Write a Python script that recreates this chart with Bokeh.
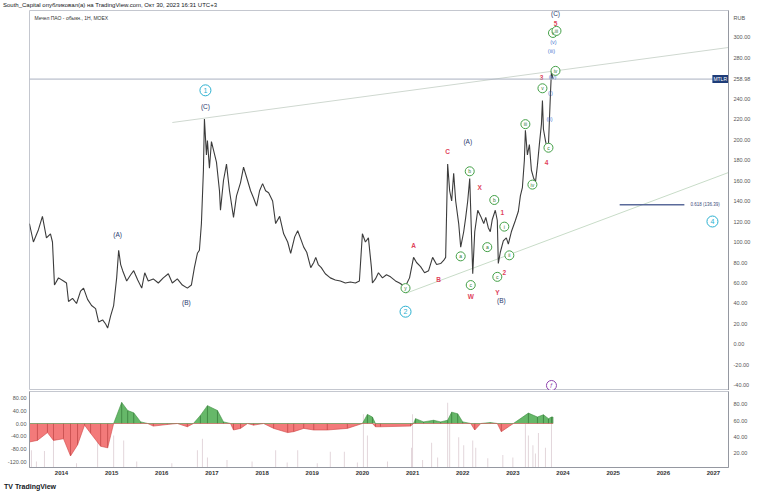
from bokeh.plotting import figure
from bokeh.models import Range1d, LinearAxis, FixedTicker, NumeralTickFormatter, Label, Span, ColumnDataSource, Div
from bokeh.layouts import column
from bokeh.embed import file_html
from bokeh.resources import INLINE
from bokeh.core.properties import value
import numpy as np

FONT = "Liberation Sans"

# ---------------- data (decimal years) ----------------
price_t = [2013.36, 2013.44, 2013.54, 2013.62, 2013.70, 2013.78, 2013.82, 2013.86, 2013.94, 2014.04,
           2014.10, 2014.14, 2014.22, 2014.30, 2014.38, 2014.44, 2014.52, 2014.60, 2014.68, 2014.74,
           2014.82, 2014.88, 2014.92, 2014.98, 2015.04, 2015.10, 2015.14, 2015.18, 2015.22, 2015.30,
           2015.38, 2015.44, 2015.52, 2015.60, 2015.66, 2015.73, 2015.83, 2015.93, 2016.03, 2016.13,
           2016.21, 2016.31, 2016.41, 2016.51, 2016.59, 2016.65, 2016.71, 2016.75, 2016.79, 2016.83,
           2016.85, 2016.89, 2016.91, 2016.95, 2016.99, 2017.03, 2017.09, 2017.15, 2017.17, 2017.23,
           2017.29, 2017.35, 2017.43, 2017.49, 2017.57, 2017.63, 2017.71, 2017.77, 2017.83, 2017.89,
           2017.95, 2018.01, 2018.07, 2018.13, 2018.21, 2018.27, 2018.35, 2018.43, 2018.51, 2018.57,
           2018.65, 2018.71, 2018.77, 2018.83, 2018.89, 2018.97, 2019.03, 2019.07, 2019.12, 2019.18,
           2019.26, 2019.36, 2019.46, 2019.56, 2019.66, 2019.76, 2019.86, 2019.94, 2020.00, 2020.06,
           2020.12, 2020.18, 2020.20, 2020.26, 2020.32, 2020.40, 2020.48, 2020.56, 2020.66, 2020.74,
           2020.80, 2020.86, 2020.94, 2021.02, 2021.08, 2021.16, 2021.24, 2021.32, 2021.40, 2021.48,
           2021.56, 2021.62, 2021.66, 2021.70, 2021.74, 2021.78, 2021.82, 2021.86, 2021.92, 2021.96,
           2022.02, 2022.06, 2022.10, 2022.14, 2022.18, 2022.20, 2022.24, 2022.30, 2022.36, 2022.42,
           2022.46, 2022.51, 2022.55, 2022.59, 2022.65, 2022.69, 2022.71, 2022.75, 2022.81, 2022.87,
           2022.91, 2022.97, 2023.05, 2023.11, 2023.15, 2023.19, 2023.23, 2023.25, 2023.29, 2023.33,
           2023.37, 2023.41, 2023.45, 2023.49, 2023.53, 2023.57, 2023.59, 2023.61, 2023.65, 2023.69,
           2023.71, 2023.73, 2023.75, 2023.77, 2023.80]
price_v = [118, 100, 112, 125, 104, 108, 100, 58, 65, 62,
           60, 42, 45, 40, 52, 55, 44, 38, 35, 22,
           24, 20, 16, 28, 38, 65, 92, 78, 72, 62,
           68, 72, 63, 55, 70, 62, 64, 60, 65, 69,
           60, 64, 58, 55, 58, 75, 89, 92, 118, 170,
           220, 185, 199, 172, 198, 190, 178, 150, 131, 160,
           176, 150, 124, 145, 158, 173, 160, 150, 143, 135,
           150, 157, 150, 148, 140, 118, 125, 108, 100, 89,
           105, 111, 103, 95, 90, 75, 80, 85, 78, 75,
           69, 65, 63, 62, 60, 61, 60, 62, 108, 100,
           104, 75, 60, 64, 70, 65, 68, 66, 62, 60,
           58, 57, 65, 85, 80, 76, 70, 72, 85, 78,
           79, 82, 85, 176, 150, 140, 167, 140, 118, 95,
           110, 124, 140, 162, 100, 69, 110, 131, 125, 118,
           124, 114, 110, 122, 131, 121, 79, 90, 101, 104,
           98, 110, 121, 130, 145, 153, 180, 209, 185, 195,
           170, 163, 158, 175, 196, 215, 238, 210, 199, 190,
           195, 220, 245, 267, 259]
last_price = 258.98

osc_t = [2013.36, 2013.52, 2013.72, 2013.84, 2014.04, 2014.18, 2014.32, 2014.46, 2014.58, 2014.78,
         2014.92, 2015.04, 2015.20, 2015.32, 2015.44, 2015.58, 2015.72, 2015.83, 2016.11, 2016.31,
         2016.51, 2016.63, 2016.77, 2016.91, 2017.11, 2017.23, 2017.37, 2017.43, 2017.57, 2017.71,
         2017.83, 2018.03, 2018.23, 2018.51, 2018.63, 2018.83, 2019.03, 2019.30, 2019.70, 2020.00,
         2020.10, 2020.20, 2020.26, 2020.36, 2020.96, 2021.02, 2021.06, 2021.22, 2021.42, 2021.56,
         2021.70, 2021.78, 2021.90, 2022.00, 2022.16, 2022.24, 2022.36, 2022.55, 2022.69, 2022.77,
         2023.01, 2023.31, 2023.49, 2023.61, 2023.71, 2023.77, 2023.80]
osc_v = [-57, -52, -28, -52, -47, -100, -66, -5, -30, -70,
         -75, 0, 65, 40, 33, 5, 0, -8, -3, 0,
         -10, 0, 25, 55, 40, 5, 0, -20, -15, 0,
         -5, 0, -15, -28, -25, -15, -20, -20, -15, 0,
         28, 20, -10, -10, -8, 0, 15, 5, 10, 5,
         10, 35, 30, 5, 0, -20, 0, 3, 0, -25,
         0, 32, 20, 27, 15, 20, 20]

vol_t = [2013.40, 2013.50, 2013.66, 2013.84, 2014.30, 2014.72, 2015.04, 2015.24, 2015.50, 2016.20,
         2016.71, 2016.81, 2016.91, 2017.30, 2017.80, 2018.27, 2018.50, 2018.71, 2019.10, 2019.36,
         2019.64, 2019.90, 2020.02, 2020.10, 2020.50, 2020.98, 2021.00, 2021.20, 2021.38, 2021.50,
         2021.70, 2021.74, 2021.92, 2022.02, 2022.20, 2022.26, 2022.50, 2022.80, 2023.00, 2023.25,
         2023.31, 2023.40, 2023.45, 2023.51, 2023.65, 2023.77]
vol_v = [24, 10, 23, 38, 8, 39, 42, 36, 10, 8,
         24, 38, 15, 12, 10, 24, 9, 24, 8, 22,
         22, 9, 68, 42, 10, 27, 68, 12, 33, 15,
         82, 56, 40, 30, 36, 27, 14, 18, 15, 56,
         42, 30, 20, 45, 27, 56]

years = [2014, 2015, 2016, 2017, 2018, 2019, 2020, 2021, 2022, 2023, 2024, 2025, 2026, 2027]
price_ticks = [300, 280, 240, 220, 200, 180, 160, 140, 120, 100, 80, 60, 40, 20, 0, -20, -40]
unit_pos = 319

# Elliott wave annotations
navy_txt = ["(A)", "(B)", "(C)", "(A)", "(B)", "(C)"]
navy_t = [2015.12, 2016.49, 2016.87, 2022.10, 2022.77, 2023.85]
navy_p = [107, 41, 232, 198, 43, 323]

red_txt = ["A", "B", "C", "X", "W", "Y", "1", "2", "3", "4", "5"]
red_t = [2021.02, 2021.52, 2021.70, 2022.34, 2022.16, 2022.69, 2022.79, 2022.83, 2023.57, 2023.67, 2023.85]
red_p = [97, 63, 188, 153, 47, 51, 129, 70, 261, 178, 313]

grn_txt = ["y", "a", "b", "c", "a", "b", "c", "i", "ii", "iii", "iv", "v", "c", "iv", "v", "iii"]
grn_t = [2020.86, 2021.96, 2022.14, 2022.16, 2022.49, 2022.63, 2022.69, 2022.83, 2022.93, 2023.25,
         2023.39, 2023.59, 2023.71, 2023.85, 2023.80, 2023.87]
grn_p = [55, 86, 169, 58, 95, 141, 66, 115, 87, 215, 156, 250, 192, 267, 304, 306]

blue_txt = ["(i)", "(ii)", "(iii)", "(iv)", "(v)"]
blue_t = [2023.75, 2023.73, 2023.77, 2023.79, 2023.81]
blue_p = [245, 220, 286, 261, 295]

cyan_txt = ["1", "2", "4"]
cyan_t = [2016.87, 2020.86, 2026.98]
cyan_p = [248, 32, 120]

upper_line_t = [2016.21, 2027.30]
upper_line_p = [216.6, 289.8]
lower_line_t = [2020.86, 2027.30]
lower_line_p = [49.8, 167.8]
fib_t = [2025.13, 2026.42]
fib_level = 136.39

# ---------------- figures ----------------
xr = Range1d(2013.362, 2027.30)
W = 758

header = Div(text="South_Capital опубликовал(а) на TradingView.com, Окт 30, 2023 16:31 UTC+3",
             width=W, height=10,
             styles={"font-size": "6px", "line-height": "10px", "padding-left": "3px",
                     "font-family": FONT, "color": "#131722", "white-space": "nowrap",
                     "margin": "0", "overflow": "hidden"})

p1 = figure(width=W, height=380, x_range=xr, y_range=Range1d(-44.9, 325.9),
            output_backend="svg", toolbar_location=None,
            x_axis_location=None, y_axis_location="right",
            min_border_left=29, min_border_right=30, min_border_top=0, min_border_bottom=0)
p1.grid.visible = False
p1.outline_line_color = "#c4c7cf"
ya = p1.yaxis[0]
ya.ticker = FixedTicker(ticks=price_ticks + [last_price, unit_pos])
ya.formatter = NumeralTickFormatter(format="0.00")
ya.major_label_overrides = {last_price: "258.98", unit_pos: "RUB"}
ya.major_label_text_font = FONT
ya.major_label_text_font_size = "5.5px"
ya.major_label_text_color = "#555555"
ya.major_tick_out = 0
ya.major_tick_in = 0
ya.minor_tick_out = 0
ya.minor_tick_in = 0
ya.major_label_standoff = 5
ya.axis_line_color = "#9598a1"

# trend lines
p1.line(upper_line_t, upper_line_p, line_color="#cfd8d0", line_width=1)
p1.line(lower_line_t, lower_line_p, line_color="#c8dcc8", line_width=1)
p1.add_layout(Span(location=last_price, dimension="width", line_color="#a9b0c0", line_width=1))
p1.line(fib_t, [fib_level, fib_level], line_color="#5a6a9a", line_width=1.5)

# price
p1.line(price_t, price_v, line_color="#3c3c3c", line_width=1.1)

def txt(fig, xs, ys, texts, color, size, bold=False):
    src = ColumnDataSource(dict(x=xs, y=ys, t=texts))
    fig.text(x="x", y="y", text="t", source=src, text_color=color,
             text_font=value(FONT), text_font_size=size,
             text_font_style="bold" if bold else "normal",
             text_align="center", text_baseline="middle")

def circled(fig, xs, ys, texts, color, tcolor, size=10, fsize="5.5px"):
    fig.scatter(xs, ys, marker="circle", size=size, fill_color="white",
                line_color=color, line_width=1)
    txt(fig, xs, ys, texts, tcolor, fsize)

txt(p1, navy_t, navy_p, navy_txt, "#2a3a6e", "6.5px")
txt(p1, red_t, red_p, red_txt, "#e0435a", "6.5px", bold=True)
txt(p1, blue_t, blue_p, blue_txt, "#4a78d0", "5.5px")
circled(p1, grn_t, grn_p, grn_txt, "#43a047", "#2e7d32", size=9, fsize="5px")
circled(p1, cyan_t, cyan_p, cyan_txt, "#2ab0d0", "#2ab0d0", size=11, fsize="7px")
circled(p1, [2023.77], [-40], ["ƒ"], "#8e44ad", "#8e44ad", size=10, fsize="6px")

p1.add_layout(Label(x=2013.46, y=319, text="Мечел ПАО - обыкн., 1Н, MOEX",
                    text_baseline="middle", text_align="left", text_font=FONT, text_font_size="5px",
                    text_color="#333333"))
p1.add_layout(Label(x=2027.29, y=last_price, text="MTLR", text_baseline="middle", text_align="right",
                    text_font=FONT, text_font_size="5px", text_color="white",
                    background_fill_color="#1e3c78", padding=1))
p1.add_layout(Label(x=2026.54, y=fib_level, text="0.618 (136.39)", text_baseline="middle", text_align="left",
                    text_font=FONT, text_font_size="4.5px", text_color="#3a4a7a"))

# ---------------- oscillator pane ----------------
p2 = figure(width=W, height=90, x_range=xr, y_range=Range1d(-135.5, 98.6),
            output_backend="svg", toolbar_location=None,
            y_axis_location="left",
            min_border_left=29, min_border_right=30, min_border_top=1, min_border_bottom=13)
p2.grid.visible = False
p2.outline_line_color = "#c4c7cf"
p2.extra_y_ranges = {"vol": Range1d(2.8, 95.9)}
va = LinearAxis(y_range_name="vol")
p2.add_layout(va, "right")

for ax in (p2.yaxis[0], va):
    ax.major_label_text_font = FONT
    ax.major_label_text_font_size = "5.5px"
    ax.major_label_text_color = "#555555"
    ax.major_tick_out = 0
    ax.major_tick_in = 0
    ax.minor_tick_out = 0
    ax.minor_tick_in = 0
    ax.formatter = NumeralTickFormatter(format="0.00")
    ax.axis_line_color = "#9598a1"
p2.yaxis[0].ticker = FixedTicker(ticks=[-120, -80, -40, 0, 40, 80])
p2.yaxis[0].major_label_standoff = 3
va.ticker = FixedTicker(ticks=[20, 40, 60, 80])
va.major_label_standoff = 5

xa = p2.xaxis[0]
xa.ticker = FixedTicker(ticks=years)
xa.major_label_text_font = FONT
xa.major_label_text_font_size = "6px"
xa.major_label_text_font_style = "bold"
xa.major_label_text_color = "#333333"
xa.major_tick_out = 0
xa.major_tick_in = 0
xa.minor_tick_out = 0
xa.minor_tick_in = 0
xa.major_label_standoff = 3
xa.axis_line_color = "#9598a1"

p2.vbar(x=vol_t, top=vol_v, bottom=0, width=0.02, y_range_name="vol",
        fill_color="#e3d6db", line_color=None)

ov = np.array(osc_v, dtype=float)
pos = np.maximum(ov, 0)
neg = np.minimum(ov, 0)
p2.varea(x=osc_t, y1=0, y2=pos, fill_color="#55b059", fill_alpha=0.9)
p2.varea(x=osc_t, y1=0, y2=neg, fill_color="#f26b6b", fill_alpha=0.9)
p2.segment(x0=osc_t, y0=[0] * len(osc_t), x1=osc_t, y1=osc_v,
           line_color=["#2e6b30" if v >= 0 else "#b23a3a" for v in osc_v], line_width=0.6)
p2.line(osc_t, pos, line_color="#3e8e41", line_width=0.6)
p2.line(osc_t, neg, line_color="#d04848", line_width=0.6)

footer = Div(text="<b>TV</b> TradingView", width=W, height=14,
             styles={"font-size": "7px", "line-height": "14px", "padding-left": "4px",
                     "font-family": FONT, "color": "#131722", "font-weight": "bold",
                     "white-space": "nowrap", "margin": "0", "overflow": "hidden"})

layout = column(header, p1, p2, footer, spacing=0)
open("out.html", "w").write(file_html(layout, INLINE))
